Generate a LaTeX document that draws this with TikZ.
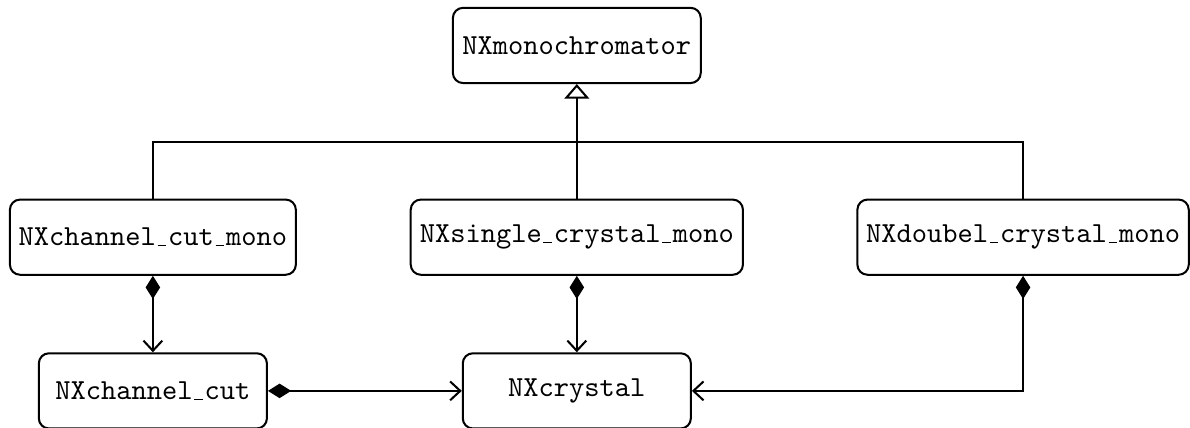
\documentclass[tikz,border=0pt]{standalone}
\usepackage{tikz}
\usetikzlibrary{arrows.meta}

\newcommand{\uscore}{\kern.06em\vbox{\hrule width.3em}\kern.06em}

\tikzset{
  cls/.style={draw,rounded corners=3.5pt,line width=0.7pt,minimum height=0.91cm,
    inner xsep=1pt,font=\ttfamily},
  gen/.style={line width=0.7pt},
  comp/.style={line width=0.7pt,{Diamond[length=8pt,width=5pt]}-{Straight Barb[length=3.5pt,width=6.5pt]}}
}

\begin{document}
\begin{tikzpicture}
      \useasboundingbox (0,0) rectangle (14.40,-5.17);
      % parent class
      \node[cls,minimum width=3.00cm] (mono) at (6.98,-0.55) {NXmonochromator};
      % subclasses
      \node[cls,minimum width=3.46cm] (ccm) at (1.85,-2.87) {NXchannel\uscore cut\uscore mono};
      \node[cls,minimum width=4.02cm] (scm) at (6.98,-2.87) {NXsingle\uscore crystal\uscore mono};
      \node[cls,minimum width=4.01cm] (dcm) at (12.38,-2.87) {NXdoubel\uscore crystal\uscore mono};
      % parts
      \node[cls,minimum width=2.76cm] (cc) at (1.85,-4.73) {NXchannel\uscore cut};
      \node[cls,minimum width=2.76cm] (crystal) at (6.98,-4.73) {NXcrystal};
      % inheritance
      \coordinate (bus) at (6.98,-1.72);
      \draw[gen] (ccm.north) |- (bus) -| (dcm.north);
      \draw[gen,-{Triangle[open,length=5pt,width=8.5pt]}] (scm.north) -- (mono.south);
      % composition
      \draw[comp] (ccm) -- (cc);
      \draw[comp] (scm) -- (crystal);
      \draw[comp] (cc) -- (crystal);
      \draw[comp] (dcm.south) |- (crystal.east);
    \end{tikzpicture}
\end{document}
